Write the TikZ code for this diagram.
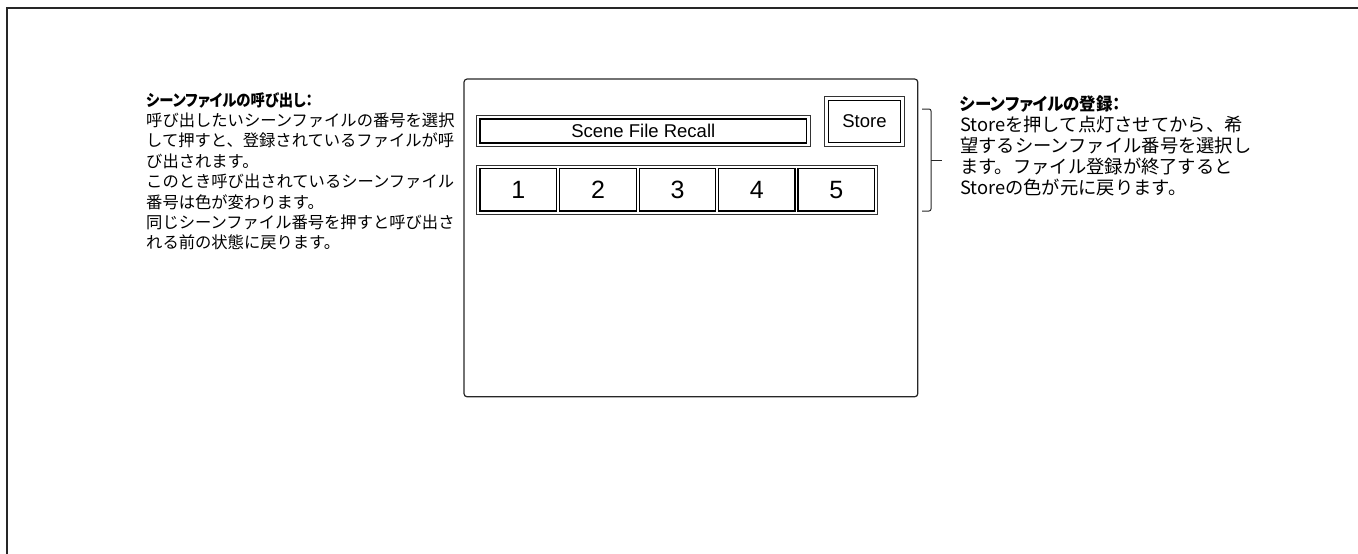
\documentclass[tikz,border=0pt]{standalone}
\usepackage{fontspec}
\setmainfont{Liberation Sans}
\newfontfamily\jp{Noto Sans CJK JP}
\newfontfamily\jph{Noto Sans CJK JP}[RawFeature=+palt]
\begin{document}
\begin{tikzpicture}[x=1pt,y=-1pt,
  box/.style 2 args={draw=black, line width=1.2pt, minimum width=#1, minimum height=#2, inner sep=0pt},
  obox/.style 2 args={draw=black!80, line width=0.8pt, minimum width=#1, minimum height=#2, inner sep=0pt},
  desc/.style={anchor=north west, align=left, inner sep=0pt},
  lat/.style={font=\fontsize{18.5}{20}\selectfont}]
\useasboundingbox (0,0) rectangle (1358,554);
% frame
\coordinate (ftl) at (7,8);
\coordinate (ftr) at (1358,8);
\coordinate (fbl) at (7,554);
\draw[line width=1.6pt, black!85] (ftr) -- (ftl) -- (fbl);
% panel
\node[draw=black!85, line width=1.2pt, rounded corners=3pt, minimum width=453.7pt, minimum height=317.7pt, inner sep=0pt] (panel) at (690.9,237.9) {};
% scene file recall
\node[obox={333.3pt}{31pt}] (sfro) at (643.3,131.2) {};
\node[box={326.7pt}{24pt}, lat] (sfr) at (643.3,131) {Scene File Recall};
% store
\node[obox={80pt}{49.6pt}] (sto) at (864.3,121.5) {};
\node[box={72.4pt}{42.4pt}, lat] (store) at (864.5,121.5) {Store};
% number row
\node[obox={401pt}{49.3pt}] (row) at (677.2,189.7) {};
\foreach \i/\x in {1/518.3,2/598,3/677.5,4/756.8,5/836.2}
  \node[box={76.5pt}{42.5pt}, font=\fontsize{25}{27}\selectfont] (b\i) at (\x,189.8) {\i};
% bracket
\coordinate (bt) at (922,109);
\coordinate (bb) at (922,211);
\coordinate (bm) at (931,160);
\coordinate (bme) at (942,160);
\draw[line width=1pt, black!85, rounded corners=2pt] (bt) -- (931,109) -- (931,211) -- (bb);
\draw[line width=1pt, black!85] (bm) -- (bme);
% left text
\node[desc, text width=330pt, font=\jp\fontsize{16.3}{20.4}\selectfont] (recall) at (146,92)
 {\scalebox{0.88}[1]{\jph\bfseries シーンファイルの呼び出し：}\\
  呼び出したいシーンファイルの番号を選択\\
  して押すと、登録されているファイルが呼\\
  び出されます。\\
  このとき呼び出されているシーンファイル\\
  番号は色が変わります。\\
  同じシーンファイル番号を押すと呼び出さ\\
  れる前の状態に戻ります。};
% right text
\node[desc, text width=320pt, font=\jp\fontsize{18.3}{20.8}\selectfont] (storetext) at (960,96)
 {\scalebox{0.95}[1]{\jph\bfseries\fontsize{17.3}{20.8}\selectfont シーンファイルの登録：}\\
  Storeを押して点灯させてから、希\\
  望するシーンファイル番号を選択し\\
  ます。ファイル登録が終了すると\\
  Storeの色が元に戻ります。};
\end{tikzpicture}
\end{document}
